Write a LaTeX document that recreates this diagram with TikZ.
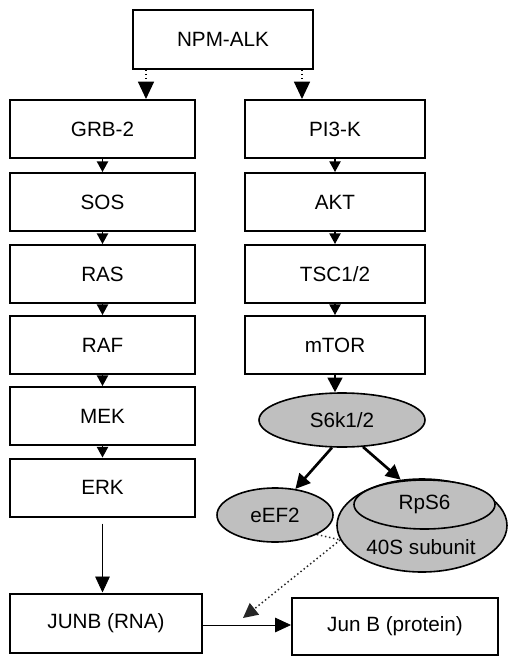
\documentclass[tikz,border=0pt]{standalone}
\usepackage{fontspec}
\setmainfont{Liberation Sans}
\usetikzlibrary{arrows.meta, shapes.geometric}

\tikzset{
	box/.style={draw, line width=1.5pt, minimum width=137pt, minimum height=43.5pt, inner sep=0pt, font=\fontsize{15.5}{18}\selectfont},
	oval/.style={ellipse, draw, line width=1.2pt, fill=black!25, inner sep=0pt, font=\fontsize{15.5}{18}\selectfont},
	link/.style={line width=1pt, -{Triangle[width=8.5pt,length=8pt]}},
	startlink/.style={line width=1pt, dotted, -{Triangle[width=12pt,length=13pt]}},
	boldlink/.style={line width=2pt, -{Triangle[width=11pt,length=11pt]}},
	thinlink/.style={line width=0.6pt, -{Triangle[width=11pt,length=12pt]}},
	dotlink/.style={line width=1.1pt, dotted, black!85}
}

\begin{document}
\begin{tikzpicture}[x=0.75pt, y=-0.75pt]
	\useasboundingbox (0,0) rectangle (520,663);
	\node[box, minimum width=135pt, minimum height=44pt] (npm) at (223,39.5) {NPM-ALK};
	% MAPK branch
	\foreach \name/\txt/\y in {grb/GRB-2/129, sos/SOS/202, ras/RAS/274, raf/RAF/345, mek/MEK/416, erk/ERK/487.5}
		\node[box, minimum width=138.75pt] (\name) at (102.5,\y) {\txt};
	% PI3K branch
	\foreach \name/\txt/\y in {pi3k/PI3-K/129, akt/AKT/202, tsc/{TSC1/2}/274, mtor/mTOR/345}
		\node[box, minimum width=135pt] (\name) at (335,\y) {\txt};
	\foreach \a/\b in {grb/sos, sos/ras, ras/raf, raf/mek, mek/erk, pi3k/akt, akt/tsc, tsc/mtor}
		\draw[link] (\a) -- (\b);
	\draw[startlink] ([xshift=10.5pt]npm.south west) -- ([xshift=10.5pt]npm.south west |- grb.north);
	\draw[startlink] ([xshift=-9pt]npm.south east) -- ([xshift=-9pt]npm.south east |- pi3k.north);

	\node[oval, minimum width=124.5pt, minimum height=40.5pt] (s6k) at (342,420) {S6k1/2};
	\node[oval, minimum width=87pt, minimum height=40.5pt] (eef2) at (275,515) {eEF2};
	\node[oval, minimum width=127.5pt, minimum height=69.75pt] (s40) at (422,525.5) {};
	\node[oval, minimum width=105.75pt, minimum height=36.75pt] (rps6) at (424.5,504.5) {RpS6};
	\node[font=\fontsize{15.5}{18}\selectfont, inner sep=0pt] (s40txt) at (421,547) {40S subunit};

	\node[box, minimum width=144pt, minimum height=44.25pt] (junb) at (106,623) {JUNB (RNA)};
	\node[box, minimum width=154.5pt, minimum height=42.75pt] (prot) at (395,626.5) {Jun B (protein)};
	\coordinate (jtip) at (243,618);

	\draw[boldlink] (mtor.south) -- (s6k.north -| mtor.south);
	\draw[boldlink] (s6k.250) -- (eef2.52);
	\draw[boldlink] (s6k.308) -- (s40.115);
	\draw[thinlink] ([yshift=-4.5pt]erk.south) -- (erk.south |- junb.north);
	\draw[thinlink] (junb.east |- 0,625) -- (prot.west |- 0,625);
	\draw[dotlink] (eef2.-25) -- (s40.190);
	\draw[dotlink, -{Triangle[width=11pt,length=11pt]}] (s40.190) -- (jtip);
\end{tikzpicture}
\end{document}
